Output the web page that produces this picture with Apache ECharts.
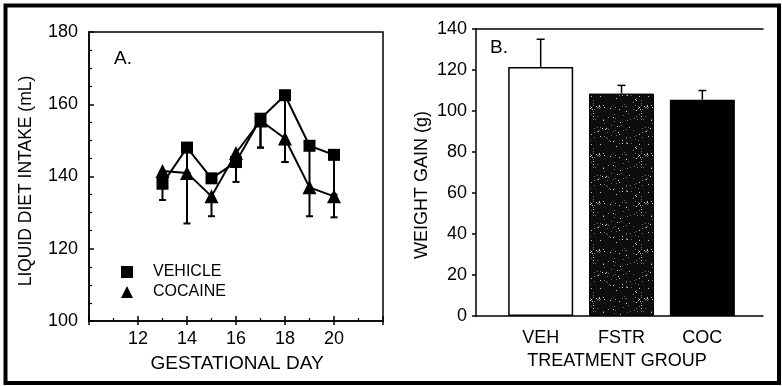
<!DOCTYPE html>
<html>
<head>
<meta charset="utf-8">
<script src="https://cdn.jsdelivr.net/npm/echarts@6/dist/echarts.min.js"></script>
<style>
  html, body { margin: 0; padding: 0; background: #fff; }
  #chart { width: 782px; height: 386px; }
</style>
</head>
<body>
<div id="chart"></div>
<script>
// Panel A: daily liquid diet intake (mL) by gestational day
const days = [13, 14, 15, 16, 17, 18, 19, 20];
const vehicleIntake = [138, 148, 139.5, 144, 156, 162.5, 148.5, 146];
const cocaineIntake = [141.5, 141, 134.5, 146.5, 155.5, 150.5, 137, 134.5];
const vehicleSem = [4.5, 7, 0, 5.5, 8, 18.5, 19.5, 11];
const cocaineSem = [0, 14, 5.5, 0, 7.5, 6.5, 0, 5.8];

// Panel B: weight gain (g) by treatment group
const groups = ['VEH', 'FSTR', 'COC'];
const groupGain = [121.5, 108.5, 105.5];
const groupSem = [13.5, 4, 4.5];

const FONT = '"Liberation Sans", Arial, Helvetica, sans-serif';

// speckled dark fill for the pair-fed group
function stippleCanvas() {
  const c = document.createElement('canvas');
  c.width = 48; c.height = 48;
  const g = c.getContext('2d');
  g.fillStyle = '#0d0d0d';
  g.fillRect(0, 0, 48, 48);
  let s = 12345;
  const next = () => (s = (s * 16807) % 2147483647);
  for (let i = 0; i < 110; i++) {
    const x = next() % 48, y = next() % 48;
    g.fillStyle = i % 3 ? '#6a6a6a' : '#c8c8c8';
    g.fillRect(x, y, 1, 1);
  }
  return c;
}

// downward error bar with a cap (panel A)
function lowerErrorBar(params, api) {
  const x = api.value(0), y = api.value(1), e = api.value(2);
  if (!e) return null;
  const p1 = api.coord([x, y]);
  const p2 = api.coord([x, y - e]);
  const st = { stroke: '#000', lineWidth: 2 };
  return {
    type: 'group',
    children: [
      { type: 'line', shape: { x1: p1[0], y1: p1[1], x2: p2[0], y2: p2[1] }, style: st },
      { type: 'line', shape: { x1: p2[0] - 3.5, y1: p2[1], x2: p2[0] + 3.5, y2: p2[1] }, style: st }
    ]
  };
}

// upward error bar with a cap (panel B)
function upperErrorBar(params, api) {
  const x = api.value(0), y = api.value(1), e = api.value(2);
  const p1 = api.coord([x, y]);
  const p2 = api.coord([x, y + e]);
  const st = { stroke: '#000', lineWidth: 1.5 };
  return {
    type: 'group',
    children: [
      { type: 'line', shape: { x1: p1[0], y1: p1[1], x2: p2[0], y2: p2[1] }, style: st },
      { type: 'line', shape: { x1: p2[0] - 4, y1: p2[1], x2: p2[0] + 4, y2: p2[1] }, style: st }
    ]
  };
}

const chart = echarts.init(document.getElementById('chart'), null, { renderer: 'canvas' });

const axisTextStyle = { color: '#000', fontFamily: FONT, fontSize: 18 };
const blackLine = { lineStyle: { color: '#000', width: 1.5 } };

chart.setOption({
  animation: false,
  backgroundColor: '#fff',
  textStyle: { fontFamily: FONT, color: '#000' },
  grid: [
    { left: 89, right: 399, top: 32, bottom: 65, show: true, borderColor: '#000', borderWidth: 1.5, backgroundColor: 'transparent' },
    { left: 476, right: 19, top: 29, bottom: 70 }
  ],
  legend: {
    orient: 'vertical',
    left: 116,
    top: 259,
    itemGap: 4,
    itemWidth: 12,
    itemHeight: 12,
    textStyle: { color: '#000', fontFamily: FONT, fontSize: 16, padding: [0, 0, 0, 15] },
    data: [
      { name: 'VEHICLE', icon: 'rect' },
      { name: 'COCAINE', icon: 'triangle' }
    ]
  },
  xAxis: [
    {
      type: 'value', gridIndex: 0, min: 10, max: 22, interval: 2,
      axisLine: blackLine,
      axisTick: { inside: true, length: 5, lineStyle: { color: '#000', width: 1.5 } },
      minorTick: { show: true, splitNumber: 2, length: 3, lineStyle: { color: '#000', width: 1.2 } },
      splitLine: { show: false },
      axisLabel: Object.assign({ margin: 9, formatter: v => (v === 10 || v === 22) ? '' : String(v) }, axisTextStyle)
    },
    {
      type: 'value', gridIndex: 0, min: 10, max: 22, interval: 2, position: 'bottom',
      axisLine: { show: false },
      axisTick: { length: 4, lineStyle: { color: '#000', width: 1.5 } },
      splitLine: { show: false },
      axisLabel: { show: false }
    },
    {
      type: 'value', gridIndex: 1, min: 0.2, max: 3.75,
      axisLine: blackLine,
      axisTick: { show: false },
      splitLine: { show: false },
      axisLabel: Object.assign({ margin: 13, customValues: [1, 2, 3], formatter: v => groups[Math.round(v) - 1] || '' }, axisTextStyle)
    },
    {
      type: 'value', gridIndex: 1, min: 0.2, max: 3.75, position: 'top',
      axisLine: blackLine,
      axisTick: { show: false },
      splitLine: { show: false },
      axisLabel: { show: false }
    }
  ],
  yAxis: [
    {
      type: 'value', gridIndex: 0, min: 100, max: 180, interval: 20,
      axisLine: blackLine,
      axisTick: { inside: true, length: 5, lineStyle: { color: '#000', width: 1.5 } },
      minorTick: { show: true, splitNumber: 4, length: 3, lineStyle: { color: '#000', width: 1.2 } },
      splitLine: { show: false },
      axisLabel: Object.assign({ margin: 11 }, axisTextStyle)
    },
    {
      type: 'value', gridIndex: 1, min: 0, max: 140, interval: 20,
      axisLine: blackLine,
      axisTick: { length: 4, lineStyle: { color: '#000', width: 1.5 } },
      splitLine: { show: false },
      axisLabel: Object.assign({ margin: 9 }, axisTextStyle)
    }
  ],
  series: [
    {
      type: 'custom', name: 'vehicle-sem', xAxisIndex: 0, yAxisIndex: 0, z: 1,
      renderItem: lowerErrorBar,
      data: days.map((d, i) => [d, vehicleIntake[i], vehicleSem[i]])
    },
    {
      type: 'custom', name: 'cocaine-sem', xAxisIndex: 0, yAxisIndex: 0, z: 1,
      renderItem: lowerErrorBar,
      data: days.map((d, i) => [d, cocaineIntake[i], cocaineSem[i]])
    },
    {
      type: 'line', name: 'COCAINE', xAxisIndex: 0, yAxisIndex: 0, z: 3,
      symbol: 'triangle', symbolSize: 14,
      itemStyle: { color: '#000' },
      lineStyle: { color: '#000', width: 2 },
      data: days.map((d, i) => [d, cocaineIntake[i]])
    },
    {
      type: 'line', name: 'VEHICLE', xAxisIndex: 0, yAxisIndex: 0, z: 4,
      symbol: 'rect', symbolSize: 12,
      itemStyle: { color: '#000' },
      lineStyle: { color: '#000', width: 2 },
      data: days.map((d, i) => [d, vehicleIntake[i]])
    },
    {
      type: 'bar', name: 'gain', xAxisIndex: 2, yAxisIndex: 1, barWidth: 65, z: 2,
      data: groups.map((g, i) => {
        const styles = [
          { color: '#fff', borderColor: '#000', borderWidth: 1.5 },
          { color: { image: stippleCanvas(), repeat: 'repeat' }, borderColor: '#000', borderWidth: 1 },
          { color: '#000' }
        ];
        return { value: [i + 1, groupGain[i]], itemStyle: styles[i] };
      })
    },
    {
      type: 'custom', name: 'gain-sem', xAxisIndex: 2, yAxisIndex: 1, z: 3,
      renderItem: upperErrorBar,
      data: groups.map((g, i) => [i + 1, groupGain[i], groupSem[i]])
    }
  ],
  graphic: [
    { type: 'rect', shape: { x: 5.5, y: 5.5, width: 773.5, height: 377.5 }, style: { fill: 'none', stroke: '#000', lineWidth: 4 }, z: 100 },
    { type: 'text', left: 114, top: 49, style: { text: 'A.', font: '19px ' + FONT, fill: '#000' } },
    { type: 'text', left: 490, top: 38, style: { text: 'B.', font: '19px ' + FONT, fill: '#000' } },
    { type: 'text', x: 237, y: 364, style: { text: 'GESTATIONAL DAY', font: '19px ' + FONT, fill: '#000', align: 'center', verticalAlign: 'middle' } },
    { type: 'text', x: 617, y: 361, style: { text: 'TREATMENT GROUP', font: '18px ' + FONT, fill: '#000', align: 'center', verticalAlign: 'middle' } },
    { type: 'text', x: 26, y: 181, rotation: Math.PI / 2, style: { text: 'LIQUID DIET INTAKE (mL)', font: '17.5px ' + FONT, fill: '#000', align: 'center', verticalAlign: 'middle' } },
    { type: 'text', x: 422, y: 185, rotation: Math.PI / 2, style: { text: 'WEIGHT GAIN (g)', font: '18px ' + FONT, fill: '#000', align: 'center', verticalAlign: 'middle' } }
  ]
});
</script>
</body>
</html>
